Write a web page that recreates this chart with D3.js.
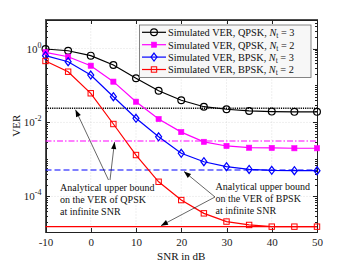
<!DOCTYPE html>
<head>
  <meta charset="utf-8">
  <style>
    body { margin: 0; background: #fff; }
    text { font-family: "Liberation Serif", "Times New Roman", serif; }
    .axis path, .axis line { stroke: #222; shape-rendering: crispEdges; }
    .axis text { font-size: 11px; fill: #222; }
  </style>
  <script src="https://d3js.org/d3.v7.min.js"></script>
</head>
<body>
<script>
const snr = [-10, -5, 0, 5, 10, 15, 20, 25, 30, 35, 40, 45, 50];

const qpsk3 = [0.97, 0.87, 0.64, 0.358, 0.157, 0.072, 0.040, 0.0267, 0.0228, 0.0205, 0.0197, 0.0194, 0.0194];
const qpsk2 = [0.79, 0.60, 0.343, 0.127, 0.0365, 0.0124, 0.0055, 0.0030, 0.00232, 0.00208, 0.00205, 0.00201, 0.00201];
const bpsk3 = [0.64, 0.44, 0.192, 0.0498, 0.013, 0.0041, 0.00147, 0.00087, 0.00064, 0.00054, 0.00051, 0.0005, 0.0005];
const bpsk2 = [0.46, 0.236, 0.0616, 0.0091, 0.00132, 0.00025, 0.00008, 0.000035, 0.000021, 0.000017, 0.0000153, 0.0000153, 0.0000153];

// analytical bounds at infinite SNR
const bounds = [0.0242, 0.00316, 0.00052, 0.0000153];

const xTicks = [-10, 0, 10, 20, 30, 40, 50];
const yTicks = [1, 1e-2, 1e-4];
const legendLabels = [
  ['Simulated VER, QPSK, ', '3'],
  ['Simulated VER, QPSK, ', '2'],
  ['Simulated VER, BPSK, ', '3'],
  ['Simulated VER, BPSK, ', '2']
];

const w = 350, h = 263;
const mLeft = 45.5, mRight = 317, mTop = 19.5, mBottom = 232;

const svg = d3.select('body').append('svg')
  .attr('width', w).attr('height', h);

const xScale = d3.scaleLinear().domain([-10, 50]).range([mLeft, mRight]);
const yScale = d3.scaleLog().domain([Math.pow(10, -4.96), Math.pow(10, 0.784)]).range([mBottom, mTop]);

// grid
const grid = svg.append('g');
xTicks.slice(1, -1).forEach(t => {
  grid.append('line')
    .attr('x1', xScale(t)).attr('x2', xScale(t))
    .attr('y1', mTop).attr('y2', mBottom)
    .attr('stroke', '#ccc').attr('stroke-width', 0.6).attr('stroke-dasharray', '1,2');
});
yTicks.forEach(t => {
  grid.append('line')
    .attr('x1', mLeft).attr('x2', mRight)
    .attr('y1', yScale(t)).attr('y2', yScale(t))
    .attr('stroke', '#ccc').attr('stroke-width', 0.6).attr('stroke-dasharray', '1,2');
});

// minor log ticks
const minor = [];
for (let e = -5; e <= 0; e++) {
  for (let m = 1; m <= 9; m++) {
    const v = m * Math.pow(10, e);
    if (v >= yScale.domain()[0] && v <= yScale.domain()[1]) minor.push(v);
  }
}

const xAxis = d3.axisBottom(xScale).tickValues(xTicks).tickSize(-4).tickPadding(6)
  .tickFormat(d => d < 0 ? '-' + Math.abs(d) : d);
svg.append('g').attr('class', 'axis')
  .attr('transform', `translate(0, ${mBottom})`)
  .call(xAxis);
svg.append('g').attr('class', 'axis')
  .attr('transform', `translate(0, ${mTop})`)
  .call(d3.axisTop(xScale).tickValues(xTicks).tickSize(-4).tickFormat(''));

const yAxis = d3.axisLeft(yScale).tickValues(minor).tickSize(-2).tickFormat('');
svg.append('g').attr('class', 'axis')
  .attr('transform', `translate(${mLeft}, 0)`)
  .call(yAxis);
svg.append('g').attr('class', 'axis')
  .attr('transform', `translate(${mRight}, 0)`)
  .call(d3.axisRight(yScale).tickValues(minor).tickSize(-2).tickFormat(''));
svg.append('g').attr('class', 'axis')
  .attr('transform', `translate(${mLeft}, 0)`)
  .call(d3.axisLeft(yScale).tickValues(yTicks).tickSize(-4).tickFormat(''));
svg.append('g').attr('class', 'axis')
  .attr('transform', `translate(${mRight}, 0)`)
  .call(d3.axisRight(yScale).tickValues(yTicks).tickSize(-4).tickFormat(''));

// y tick labels with superscript
yTicks.forEach(t => {
  const e = Math.round(Math.log10(t));
  const tx = svg.append('text')
    .attr('x', mLeft - 4).attr('y', yScale(t) + 4)
    .attr('text-anchor', 'end').attr('font-size', 11).attr('fill', '#222');
  tx.append('tspan').text('10');
  tx.append('tspan').attr('dy', -5).attr('font-size', 8).text(e);
});

// plot box
svg.append('rect')
  .attr('x', mLeft).attr('y', mTop)
  .attr('width', mRight - mLeft).attr('height', mBottom - mTop)
  .attr('fill', 'none').attr('stroke', '#222').attr('stroke-width', 0.8)
  .attr('shape-rendering', 'crispEdges');

// bound lines
const boundStyle = [
  { c: '#000', dash: '1.2,1', wd: 1.4 },
  { c: '#ff00ff', dash: '6,2,1.5,2', wd: 1.2 },
  { c: '#0000ff', dash: '6,3', wd: 1.2 },
  { c: '#ff0000', dash: null, wd: 1.2 }
];
bounds.forEach((b, i) => {
  svg.append('line')
    .attr('x1', mLeft).attr('x2', mRight)
    .attr('y1', yScale(b)).attr('y2', yScale(b))
    .attr('stroke', boundStyle[i].c).attr('stroke-width', boundStyle[i].wd)
    .attr('stroke-dasharray', boundStyle[i].dash);
});

// series
const series = [
  { v: qpsk3, c: '#000', m: 'circle' },
  { v: qpsk2, c: '#ff00ff', m: 'fsquare' },
  { v: bpsk3, c: '#0000ff', m: 'diamond' },
  { v: bpsk2, c: '#ff0000', m: 'square' }
];

const line = d3.line().x((d, i) => xScale(snr[i])).y(d => yScale(d));

function marker(g, m, c, x, y) {
  if (m === 'circle') {
    g.append('circle').attr('cx', x).attr('cy', y).attr('r', 3.4)
      .attr('fill', 'none').attr('stroke', c).attr('stroke-width', 1.2);
  } else if (m === 'fsquare') {
    g.append('rect').attr('x', x - 2.6).attr('y', y - 2.6).attr('width', 5.2).attr('height', 5.2)
      .attr('fill', c).attr('stroke', c).attr('stroke-width', 0.6);
  } else if (m === 'diamond') {
    g.append('path').attr('d', `M${x},${y - 4}L${x + 3},${y}L${x},${y + 4}L${x - 3},${y}Z`)
      .attr('fill', 'none').attr('stroke', c).attr('stroke-width', 1.2);
  } else {
    g.append('rect').attr('x', x - 2.7).attr('y', y - 2.7).attr('width', 5.4).attr('height', 5.4)
      .attr('fill', 'none').attr('stroke', c).attr('stroke-width', 1);
  }
}

series.forEach(s => {
  const g = svg.append('g');
  g.append('path').datum(s.v).attr('d', line)
    .attr('fill', 'none').attr('stroke', s.c).attr('stroke-width', 1.2);
  s.v.forEach((d, i) => marker(g, s.m, s.c, xScale(snr[i]), yScale(d)));
});

// legend
const lg = svg.append('g');
lg.append('rect').attr('x', 139.5).attr('y', 25).attr('width', 171.5).attr('height', 52.5)
  .attr('fill', '#f7f7f7').attr('stroke', '#666').attr('stroke-width', 0.8);
legendLabels.forEach((l, i) => {
  const y = 32.3 + i * 12.4;
  const s = series[i];
  lg.append('line').attr('x1', 142).attr('x2', 166).attr('y1', y).attr('y2', y)
    .attr('stroke', s.c).attr('stroke-width', 1.2);
  marker(lg, s.m, s.c, 154, y);
  const t = lg.append('text').attr('x', 168).attr('y', y + 3.8)
    .attr('font-size', 10.3).attr('fill', '#111');
  t.append('tspan').text(l[0]);
  t.append('tspan').attr('font-style', 'italic').text('N');
  t.append('tspan').attr('font-size', 7.5).attr('dy', 2).text('t');
  t.append('tspan').attr('dy', -2).text(' = ' + l[1]);
});

// annotations
function arrow(x1, y1, x2, y2) {
  svg.append('line').attr('x1', x1).attr('y1', y1).attr('x2', x2).attr('y2', y2)
    .attr('stroke', '#000').attr('stroke-width', 0.6);
  const a = Math.atan2(y2 - y1, x2 - x1);
  const L = 7, W = 2.6;
  const bx = x2 - L * Math.cos(a), by = y2 - L * Math.sin(a);
  const p1 = [bx + W * Math.sin(a), by - W * Math.cos(a)];
  const p2 = [bx - W * Math.sin(a), by + W * Math.cos(a)];
  svg.append('path').attr('d', `M${x2},${y2}L${p1[0]},${p1[1]}L${p2[0]},${p2[1]}Z`)
    .attr('fill', '#000');
}

arrow(108.5, 180, 75.5, yScale(bounds[0]) + 1.5);
arrow(110, 180, 114.5, yScale(bounds[1]) + 1);
arrow(215, 197, 184, yScale(bounds[2]) + 1.5);
arrow(215, 197, 161, yScale(bounds[3]) - 1);

const note1 = ['Analytical upper bound', 'on the VER of QPSK', 'at infinite SNR'];
const note2 = ['Analytical upper bound', 'on the VER of BPSK', 'at infinite SNR'];
note1.forEach((s, i) => {
  svg.append('text').attr('x', 60).attr('y', 190.5 + i * 12.2)
    .attr('font-size', 10).attr('fill', '#111').text(s);
});
note2.forEach((s, i) => {
  svg.append('text').attr('x', 215.5).attr('y', 189.5 + i * 12.2)
    .attr('font-size', 10).attr('fill', '#111').text(s);
});

// axis titles
svg.append('text').attr('x', (mLeft + mRight) / 2).attr('y', 260)
  .attr('text-anchor', 'middle').attr('font-size', 11).attr('fill', '#111').text('SNR in dB');
svg.append('text').attr('transform', `translate(20, ${(mTop + mBottom) / 2}) rotate(-90)`)
  .attr('text-anchor', 'middle').attr('font-size', 11).attr('fill', '#111').text('VER');
</script>
</body>
